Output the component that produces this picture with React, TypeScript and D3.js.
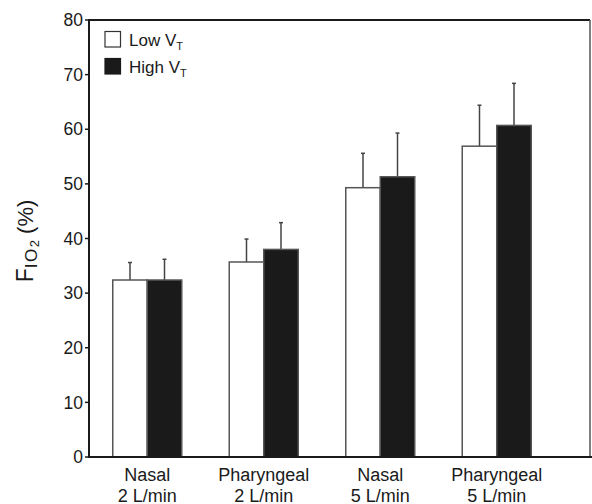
import React from "react";
import * as d3 from "d3";

const categories = [["Nasal", "2 L/min"], ["Pharyngeal", "2 L/min"], ["Nasal", "5 L/min"], ["Pharyngeal", "5 L/min"]];
const series = ["Low", "High"];
const lowValues = [32.4, 35.7, 49.3, 56.9];
const lowErrors = [3.2, 4.2, 6.3, 7.5];
const highValues = [32.4, 38.0, 51.3, 60.7];
const highErrors = [3.8, 4.9, 8.0, 7.7];
const yTicks = [0, 10, 20, 30, 40, 50, 60, 70, 80];

export default function App() {
  const W = 592, H = 504;
  const left = 89, right = 590, top = 20, bottom = 457;
  const y = d3.scaleLinear().domain([0, 80]).range([bottom, top]);
  const x0 = d3.scaleBand<number>().domain(d3.range(categories.length)).range([left, 555]).paddingInner(0).paddingOuter(0);
  const x1 = d3.scaleBand<string>().domain(series).range([-34.5, 34.5]);
  const font = "Liberation Sans, Arial, sans-serif";
  const data = series.map((s, si) => ({
    s,
    vals: si === 0 ? lowValues : highValues,
    errs: si === 0 ? lowErrors : highErrors,
    fill: si === 0 ? "#ffffff" : "#1a1a1a",
  }));
  return (
    <svg width={W} height={H} style={{ position: "absolute", left: 0, top: 0 }} fontFamily={font}>
      {/* bars */}
      {categories.map((c, i) => {
        const cx = x0(i)! + x0.bandwidth() / 2;
        return (
          <g key={i}>
            {data.map((d) => {
              const bx = cx + x1(d.s)!;
              const bw = x1.bandwidth();
              const v = d.vals[i];
              const e = d.errs[i];
              const mx = bx + bw / 2;
              return (
                <g key={d.s}>
                  <line x1={mx} x2={mx} y1={y(v)} y2={y(v + e)} stroke="#444" strokeWidth={1.5} />
                  <line x1={mx - 2} x2={mx + 2} y1={y(v + e)} y2={y(v + e)} stroke="#444" strokeWidth={1.5} />
                  <rect x={bx} y={y(v)} width={bw} height={y(0) - y(v)} fill={d.fill} stroke="#555" strokeWidth={1.5} />
                </g>
              );
            })}
          </g>
        );
      })}
      {/* frame */}
      <line x1={left} x2={right} y1={top} y2={top} stroke="#1a1a1a" strokeWidth={2} />
      <line x1={right} x2={right} y1={top} y2={bottom} stroke="#555" strokeWidth={1.5} />
      <line x1={left} x2={left} y1={top - 1} y2={bottom + 1} stroke="#1a1a1a" strokeWidth={2} />
      <line x1={left - 1} x2={W} y1={bottom} y2={bottom} stroke="#1a1a1a" strokeWidth={2} />
      {/* y ticks */}
      {yTicks.map((t) => (
        <g key={t}>
          <line x1={left - 4} x2={left} y1={y(t)} y2={y(t)} stroke="#1a1a1a" strokeWidth={1.5} />
          <text x={left - 6} y={y(t)} dy="0.35em" textAnchor="end" fontSize={17.5} fill="#1a1a1a">{t}</text>
        </g>
      ))}
      {/* x labels */}
      {categories.map((c, i) => {
        const cx = x0(i)! + x0.bandwidth() / 2;
        return (
          <text key={i} textAnchor="middle" fontSize={18} fill="#1a1a1a">
            <tspan x={cx} y={480.5}>{c[0]}</tspan>
            <tspan x={cx} y={501.5}>{c[1]}</tspan>
          </text>
        );
      })}
      {/* y label */}
      <text transform={`translate(33,241) rotate(-90)`} textAnchor="middle" fontSize={22} fill="#1a1a1a">
        <tspan fontSize={23} dx={0}>F</tspan>
        <tspan fontSize={17} dy={4} letterSpacing={1.5}>IO</tspan>
        <tspan fontSize={13} dy={2}>2</tspan>
        <tspan dy={-6}> (%)</tspan>
      </text>
      {/* legend */}
      <rect x={105} y={31.5} width={15.5} height={15.5} fill="#fff" stroke="#333" strokeWidth={1.2} />
      <text x={129} y={46} fontSize={17} fill="#1a1a1a">Low V<tspan fontSize={11} dy={4}>T</tspan></text>
      <rect x={105} y={58.5} width={15.5} height={15.5} fill="#1a1a1a" stroke="#1a1a1a" strokeWidth={1.2} />
      <text x={129} y={73} fontSize={17} fill="#1a1a1a">High V<tspan fontSize={11} dy={4}>T</tspan></text>
    </svg>
  );
}
